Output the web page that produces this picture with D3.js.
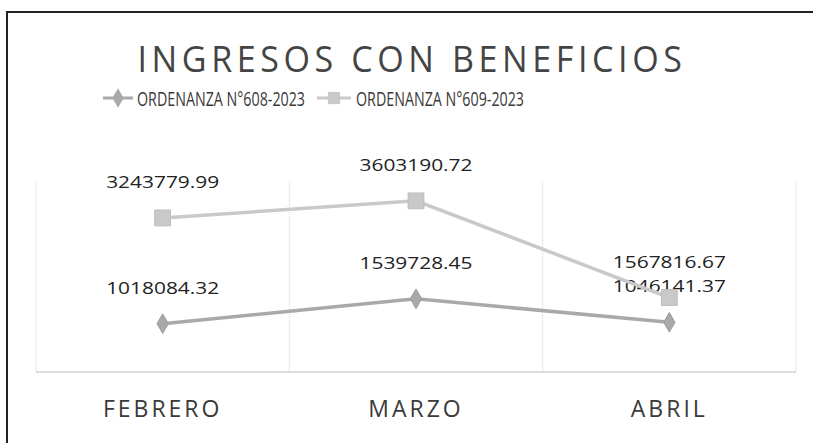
<!DOCTYPE html>
<html>
<head>
<meta charset="utf-8">
<script src="https://d3js.org/d3.v7.min.js"></script>
<style>
  body { margin: 0; background: #fff; overflow: hidden; }
  text { font-family: "Open Sans", sans-serif; fill: #3a3a3a; }
</style>
</head>
<body>
<div id="chart"></div>
<script>
/* datos */
var meses = ["FEBRERO", "MARZO", "ABRIL"];
var serie608 = [1018084.32, 1539728.45, 1046141.37];
var serie609 = [3243779.99, 3603190.72, 1567816.67];
var nombres = ["ORDENANZA N°608-2023", "ORDENANZA N°609-2023"];
var titulo = "INGRESOS CON BENEFICIOS";

var width = 813, height = 443;

var svg = d3.select("#chart")
	.append("svg")
	.attr("width", width)
	.attr("height", height)
	.style("display", "block");

/* marco (solo lados izquierdo y superior visibles) */
svg.append("path")
	.attr("d", "M7,460V12H813")
	.style("fill", "none")
	.style("stroke", "#222")
	.style("stroke-width", 2);

var x = d3.scaleBand().domain(meses).range([36, 796]);
var y = d3.scaleLinear().domain([0, 4000000]).range([372, 182]);

/* titulo */
svg.append("text")
	.attr("x", 412).attr("y", 72)
	.attr("text-anchor", "middle")
	.attr("textLength", 549)
	.attr("lengthAdjust", "spacingAndGlyphs")
	.style("font-size", "37px")
	.style("letter-spacing", "5px")
	.style("fill", "#444")
	.text(titulo);

/* rejilla */
var bordes = meses.map(function(m) { return x(m); }).concat([x.range()[1]]);
svg.selectAll(".grid")
	.data(bordes)
	.enter()
	.append("line")
	.attr("class", "grid")
	.attr("x1", function(d) { return d; })
	.attr("x2", function(d) { return d; })
	.attr("y1", y(4000000))
	.attr("y2", y(0))
	.style("stroke", "#d4d4d4")
	.style("stroke-dasharray", "1,1")
	.style("stroke-width", 1);

svg.append("line")
	.attr("x1", x.range()[0]).attr("x2", x.range()[1])
	.attr("y1", y(0)).attr("y2", y(0))
	.style("stroke", "#d0d0d0")
	.style("stroke-width", 1.5);

/* eje x */
var xAxis = d3.axisBottom(x).tickSize(0).tickPadding(0);
var gx = svg.append("g")
	.attr("transform", "translate(0,417)")
	.call(xAxis);
gx.select(".domain").remove();
gx.selectAll("text")
	.attr("dy", 0)
	.style("font-size", "23px")
	.style("letter-spacing", "3px")
	.style("fill", "#3a3a3a");

var cx = function(d, i) { return x(meses[i]) + x.bandwidth() / 2; };
var linea = d3.line()
	.x(function(d, i) { return cx(d, i); })
	.y(function(d) { return y(d); });

var series = [
	{nombre: nombres[0], valores: serie608, color: "#a9a9a9", forma: d3.symbolDiamond},
	{nombre: nombres[1], valores: serie609, color: "#c9c9c9", forma: d3.symbolSquare}
];

series.forEach(function(s) {
	svg.append("path")
		.attr("d", linea(s.valores))
		.style("fill", "none")
		.style("stroke", s.color)
		.style("stroke-width", 3.5);

	svg.selectAll(null)
		.data(s.valores)
		.enter()
		.append("path")
		.attr("transform", function(d, i) { return "translate(" + cx(d, i) + "," + y(d) + ")"; })
		.attr("d", d3.symbol().type(s.forma).size(s.forma === d3.symbolSquare ? 250 : 110))
		.style("fill", s.color)
		.style("stroke", s.forma === d3.symbolSquare ? "#bdbdbd" : "#9a9a9a")
		.style("stroke-width", 1);

	svg.selectAll(null)
		.data(s.valores)
		.enter()
		.append("text")
		.attr("x", function(d, i) { return cx(d, i); })
		.attr("y", function(d) { return y(d) - 30; })
		.attr("text-anchor", "middle")
		.attr("textLength", 113)
		.attr("lengthAdjust", "spacingAndGlyphs")
		.style("font-size", "17px")
		.style("fill", "#222")
		.text(function(d) { return d.toFixed(2); });
});

/* leyenda */
var leyenda = [
	{x: 103, color: "#a9a9a9", forma: d3.symbolDiamond, tx: 137},
	{x: 317, color: "#c9c9c9", forma: d3.symbolSquare, tx: 356}
];
leyenda.forEach(function(l, i) {
	svg.append("line")
		.attr("x1", l.x).attr("x2", l.x + (i === 0 ? 30 : 34))
		.attr("y1", 98).attr("y2", 98)
		.style("stroke", l.color)
		.style("stroke-width", 3);
	svg.append("path")
		.attr("transform", "translate(" + (l.x + (i === 0 ? 15 : 17)) + ",98)")
		.attr("d", d3.symbol().type(l.forma).size(i === 0 ? 110 : 150))
		.style("fill", l.color);
	svg.append("text")
		.attr("x", l.tx).attr("y", 106)
		.attr("textLength", 168)
		.attr("lengthAdjust", "spacingAndGlyphs")
		.style("font-size", "20px")
		.text(nombres[i]);
});
</script>
</body>
</html>
